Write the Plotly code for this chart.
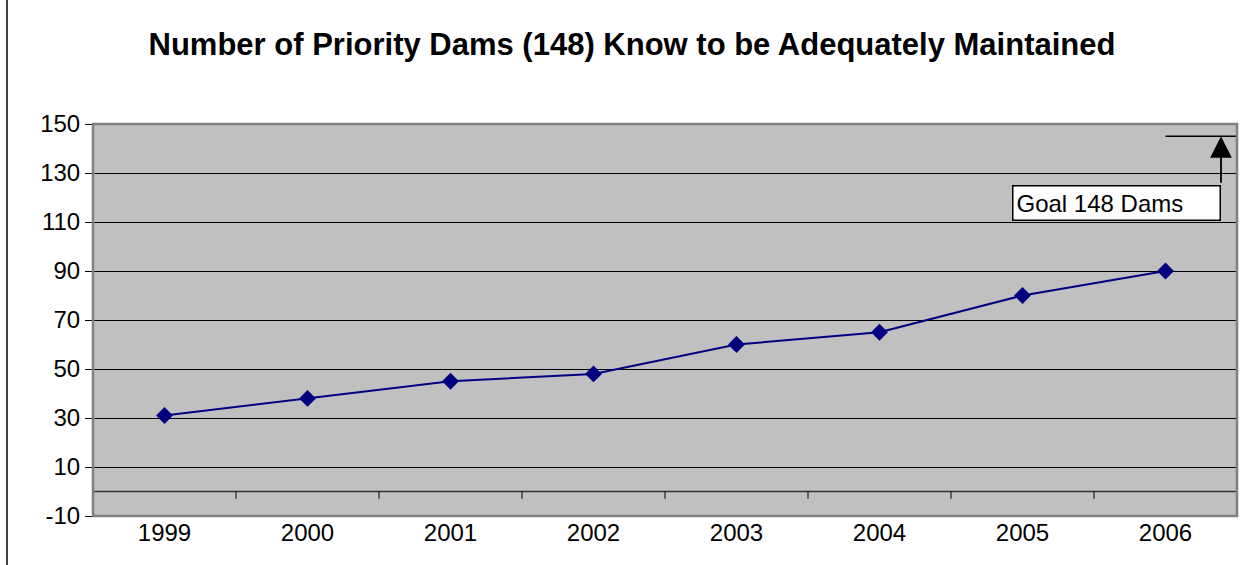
import plotly.graph_objects as go

years = ["1999", "2000", "2001", "2002", "2003", "2004", "2005", "2006"]
dams = [31, 38, 45, 48, 60, 65, 80, 90]
y_ticks = [-10, 10, 30, 50, 70, 90, 110, 130, 150]
y_tick_text = ["-10", "10", "30", "50", "70", "90", "110", "130", "150"]
goal_level = 145
goal_label = "Goal 148 Dams"
title = "Number of Priority Dams (148) Know to be Adequately Maintained"

W, H = 1248, 565
L, R, T, B = 93, 11, 124, 49
pw = W - L - R
ph = H - T - B

fig = go.Figure()
fig.add_trace(go.Scatter(
    x=list(range(len(years))), y=dams, mode="lines+markers",
    line=dict(color="#000080", width=2),
    marker=dict(symbol="diamond", size=13, color="#000080"),
    showlegend=False, hoverinfo="skip"))

shapes = []
# zero line
shapes.append(dict(type="line", xref="x", yref="y", x0=-0.5, x1=len(years) - 0.5,
                   y0=0, y1=0, line=dict(color="#333333", width=1.5), layer="above"))
# category ticks at zero line
for i in range(len(years)):
    shapes.append(dict(type="line", xref="x", yref="y", x0=i + 0.5, x1=i + 0.5,
                       y0=0, y1=-3, line=dict(color="black", width=1), layer="above"))
# goal line
shapes.append(dict(type="line", xref="x", yref="y", x0=len(years) - 1, x1=len(years) - 0.5,
                   y0=goal_level, y1=goal_level, line=dict(color="black", width=1.5)))
# plot border
shapes.append(dict(type="rect", xref="paper", yref="paper", x0=0, x1=1, y0=0, y1=1,
                   line=dict(color="#808080", width=2.5), layer="above"))
# outer chart border (left)
shapes.append(dict(type="line", xref="paper", yref="paper",
                   x0=(7 - L) / pw, x1=(7 - L) / pw, y0=-B / ph, y1=(ph + T) / ph,
                   line=dict(color="black", width=1.5)))

arrow_x = (1221 - L) / pw * len(years) - 0.5
box_top_y = 150 - (185 - T) / ph * 160

annotations = [
    dict(x=arrow_x, y=goal_level, xref="x", yref="y", text="", showarrow=True,
         ax=0, ay=48, axref="pixel", ayref="pixel", arrowhead=2, arrowsize=2.4,
         arrowwidth=1.8, arrowcolor="black", standoff=0),
    dict(x=arrow_x, y=box_top_y, xref="x", yref="y", text=goal_label,
         showarrow=False, xanchor="right", yanchor="top", align="left",
         bgcolor="white", bordercolor="black", borderwidth=1.5, borderpad=3,
         width=200, font=dict(family="Arial, Liberation Sans", size=24, color="black")),
]

fig.update_layout(
    width=W, height=H,
    margin=dict(l=L, r=R, t=T, b=B),
    paper_bgcolor="white", plot_bgcolor="#C0C0C0",
    title=dict(text="<b>" + title + "</b>", x=(632) / W, xanchor="center",
               y=1 - 44 / H, yanchor="middle",
               font=dict(family="Arial, Liberation Sans", size=31, color="black")),
    font=dict(family="Arial, Liberation Sans", size=24, color="black"),
    xaxis=dict(range=[-0.5, len(years) - 0.5], tickmode="array",
               tickvals=list(range(len(years))), ticktext=years,
               showgrid=False, zeroline=False, ticks="", showline=False,
               tickfont=dict(size=24)),
    yaxis=dict(range=[-10, 150], tickmode="array", tickvals=y_ticks, ticktext=y_tick_text,
               showgrid=True, gridcolor="black", gridwidth=1, zeroline=False,
               ticks="outside", ticklen=7, tickcolor="black", showline=False,
               tickfont=dict(size=24)),
    shapes=shapes, annotations=annotations,
)

fig.write_html("out.html", config={"displayModeBar": False},
               post_script="document.body.style.margin='0';")
